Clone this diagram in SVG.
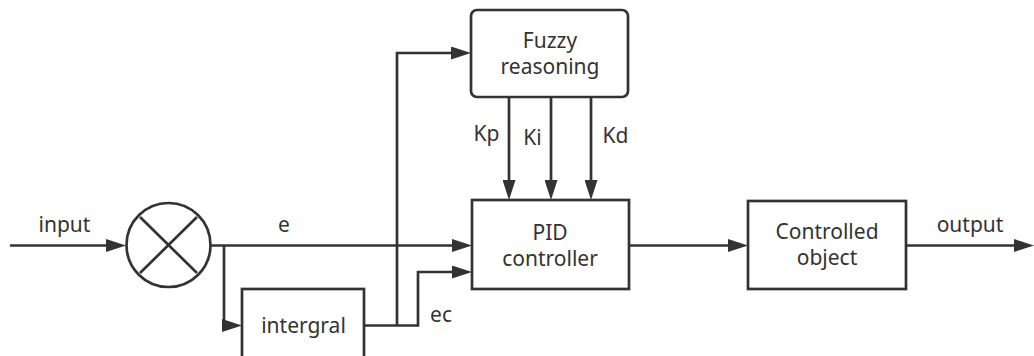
<svg xmlns="http://www.w3.org/2000/svg" width="1034" height="356" viewBox="0 0 1034 356">
<style>
.box{fill:#fff;stroke:#333;stroke-width:2.7}
.ln{fill:none;stroke:#333;stroke-width:2.7}
.t{font-family:"Noto Sans","Open Sans",sans-serif;font-size:21px;fill:#333;text-anchor:middle}
</style>
<defs>
<marker id="arr" markerUnits="userSpaceOnUse" markerWidth="20" markerHeight="13" refX="10" refY="6.5" orient="auto">
<path d="M0,0 L20,6.5 L0,13 z" fill="#333"/>
</marker>
</defs>
<rect width="1034" height="356" fill="#fff"/>
<g id="connectors">
<path class="ln" d="M10 245.5 H116" marker-end="url(#arr)"/>
<path class="ln" d="M211 245.5 H462" marker-end="url(#arr)"/>
<path class="ln" d="M224 245.5 V325.5 H232" marker-end="url(#arr)"/>
<path class="ln" d="M364 325.5 H418 V272 H462" marker-end="url(#arr)"/>
<path class="ln" d="M397 325.5 V53 H461" marker-end="url(#arr)"/>
<path class="ln" d="M509 97 V190" marker-end="url(#arr)"/>
<path class="ln" d="M551 97 V190" marker-end="url(#arr)"/>
<path class="ln" d="M591 97 V190" marker-end="url(#arr)"/>
<path class="ln" d="M629 245.5 H738" marker-end="url(#arr)"/>
<path class="ln" d="M906 245.5 H1024" marker-end="url(#arr)"/>
<text class="t" x="64.5" y="232">input</text>
<text class="t" x="284" y="232">e</text>
<text class="t" x="441" y="322">ec</text>
<text class="t" x="486.5" y="141">Kp</text>
<text class="t" x="532.5" y="145">Ki</text>
<text class="t" x="615.5" y="143">Kd</text>
<text class="t" x="970" y="232">output</text>
</g>
<g id="sum">
<circle class="box" cx="168.5" cy="245" r="42"/>
<path class="ln" d="M140 217 L197 273 M197 217 L140 273"/>
</g>
<g id="fuzzy">
<rect class="box" x="471" y="10" width="157" height="87" rx="6"/>
<text class="t" x="550" y="48">Fuzzy</text>
<text class="t" x="550" y="74">reasoning</text>
</g>
<g id="pid">
<rect class="box" x="472" y="200" width="157" height="89"/>
<text class="t" x="550" y="240">PID</text>
<text class="t" x="550" y="266">controller</text>
</g>
<g id="integral">
<rect class="box" x="242" y="289" width="122" height="80"/>
<text class="t" x="303.5" y="333">intergral</text>
</g>
<g id="plant">
<rect class="box" x="748" y="201" width="158" height="88"/>
<text class="t" x="827" y="239">Controlled</text>
<text class="t" x="827" y="265">object</text>
</g>
</svg>
